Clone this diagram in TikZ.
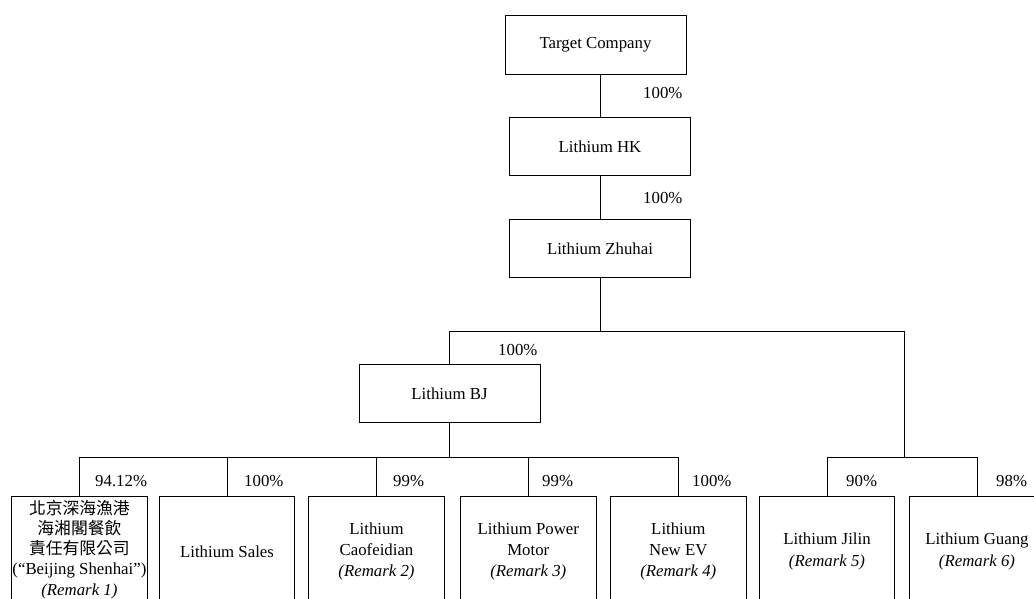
\documentclass[tikz,border=0pt]{standalone}
\usepackage{fontspec}
\setmainfont{Liberation Serif}
\newfontfamily\cjkfont{Noto Sans CJK TC}
\tikzset{
  every node/.style={font=\fontsize{16.8}{21.2}\selectfont},
  holder/.style={draw, black, line width=0.8pt, minimum width=181pt, minimum height=58.5pt, inner sep=2pt, align=center},
  subsid/.style={draw, black, line width=0.8pt, minimum width=135.5pt, minimum height=110pt, inner sep=1pt, align=center, anchor=north},
  pct/.style={inner sep=0pt, anchor=west},
  link/.style={black, line width=0.8pt}
}
\begin{document}
\begin{tikzpicture}[x=1pt,y=-1pt]
  \clip (0,0) rectangle (1034,599);
  % upper chain
  \node[holder] (tc) at (595.5,45) {Target Company};
  \node[holder] (hk) at (600,146.5) {Lithium HK};
  \node[holder] (zh) at (600,248.5) {Lithium Zhuhai};
  \node[holder] (bj) at (449.5,393.5) {Lithium BJ};
  \coordinate (zj) at (600,331.5);
  \coordinate (rj) at (904,331.5);
  \coordinate (rb) at (904,457.7);
  \coordinate (bb) at (449.5,457.7);
  \draw[link] (hk.north |- tc.south) -- (hk.north);
  \draw[link] (hk.south) -- (zh.north);
  \draw[link] (zh.south) -- (zj);
  \draw[link] (bj.north) |- (rj) -- (rb);
  \draw[link] (bj.south) -- (bb);
  % subsidiaries
  \node[subsid, minimum height=106pt, font=\fontsize{16.8}{20.2}\selectfont] (sh) at (79.4,496) {{\cjkfont 北京深海漁港}\\{\cjkfont 海湘閣餐飲}\\{\cjkfont 責任有限公司}\\(“Beijing Shenhai”)\\\textit{(Remark 1)}};
  \node[subsid] (sa) at (227,496) {Lithium Sales};
  \node[subsid] (cf) at (376.5,496) {Lithium\\Caofeidian\\\textit{(Remark 2)}};
  \node[subsid] (pm) at (528.3,496) {Lithium Power\\Motor\\\textit{(Remark 3)}};
  \node[subsid] (ne) at (678.3,496) {Lithium\\New EV\\\textit{(Remark 4)}};
  \node[subsid] (jl) at (827,496) {Lithium Jilin\\\textit{(Remark 5)}};
  \node[subsid] (gu) at (977,496) {Lithium Guang\\\textit{(Remark 6)}};
  \draw[link] (sh.north) |- (bb) -| (ne.north);
  \foreach \c in {sa,cf,pm}
    \draw[link] (\c.north) -- (\c.north |- bb);
  \draw[link] (jl.north) |- (rb) -| (gu.north);
  % shareholdings
  \node[pct] (p1) at (643,93) {100\%};
  \node[pct] (p2) at (643,198) {100\%};
  \node[pct] (p3) at (498,350) {100\%};
  \node[pct] (p4) at (95,481) {94.12\%};
  \node[pct] (p5) at (244,481) {100\%};
  \node[pct] (p6) at (393,481) {99\%};
  \node[pct] (p7) at (542,481) {99\%};
  \node[pct] (p8) at (692,481) {100\%};
  \node[pct] (p9) at (846,481) {90\%};
  \node[pct] (p10) at (996,481) {98\%};
\end{tikzpicture}
\end{document}
